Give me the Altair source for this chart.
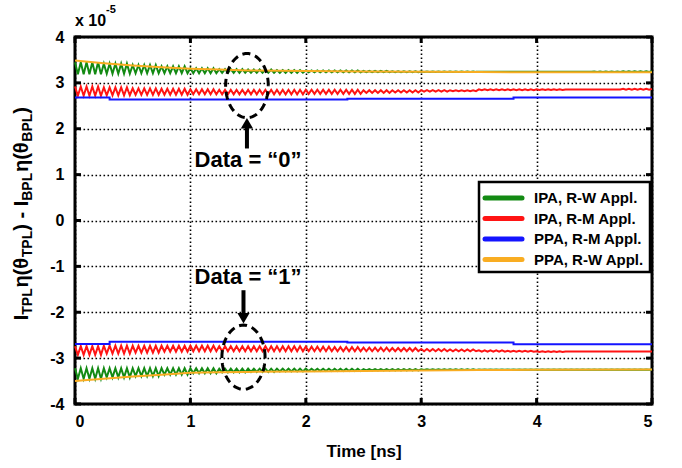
import altair as alt
import numpy as np
import pandas as pd

# ---------------- data (units of 1e-5) ----------------
SEG = 0.25      # envelope segment length [ns]
STEP = 0.025    # zigzag vertex step [ns]

# oscillating traces: upper / lower envelope per 0.25 ns segment
green0_hi = [3.45, 3.42, 3.39, 3.36, 3.32, 3.30, 3.29, 3.28, 3.27, 3.27,
             3.26, 3.255, 3.25, 3.25, 3.245, 3.245, 3.245, 3.245, 3.25, 3.255]
green0_lo = [3.19, 3.20, 3.21, 3.21, 3.21, 3.22, 3.22, 3.22, 3.23, 3.23,
             3.235, 3.235, 3.24, 3.24, 3.245, 3.245, 3.245, 3.245, 3.24, 3.24]
red0_hi = [2.92, 2.90, 2.88, 2.87, 2.86, 2.85, 2.85, 2.85, 2.85, 2.85,
           2.84, 2.84, 2.84, 2.84, 2.86, 2.86, 2.86, 2.855, 2.855, 2.87]
red0_lo = [2.72, 2.73, 2.74, 2.74, 2.75, 2.75, 2.75, 2.75, 2.76, 2.76,
           2.78, 2.79, 2.81, 2.82, 2.84, 2.84, 2.845, 2.855, 2.855, 2.85]
green1_hi = [-3.22, -3.22, -3.22, -3.22, -3.22, -3.23, -3.23, -3.23, -3.23, -3.23,
             -3.24, -3.24, -3.245, -3.245, -3.25, -3.25, -3.25, -3.25, -3.25, -3.25]
green1_lo = [-3.45, -3.42, -3.39, -3.36, -3.33, -3.31, -3.30, -3.29, -3.28, -3.28,
             -3.27, -3.27, -3.26, -3.26, -3.255, -3.255, -3.255, -3.255, -3.255, -3.255]
red1_hi = [-2.74, -2.73, -2.73, -2.73, -2.73, -2.74, -2.74, -2.74, -2.75, -2.76,
           -2.77, -2.78, -2.80, -2.81, -2.83, -2.84, -2.85, -2.855, -2.855, -2.855]
red1_lo = [-2.93, -2.90, -2.88, -2.86, -2.85, -2.85, -2.85, -2.85, -2.85, -2.85,
           -2.85, -2.85, -2.85, -2.85, -2.86, -2.86, -2.865, -2.855, -2.855, -2.855]

# smooth traces
orange_t = [0, 0.25, 0.5, 0.75, 1, 1.25, 1.5, 2, 2.5, 3, 3.5, 4, 5]
orange0_v = [3.49, 3.43, 3.38, 3.34, 3.31, 3.29, 3.27, 3.26, 3.25, 3.24, 3.235, 3.23, 3.23]
orange1_v = [-3.50, -3.45, -3.40, -3.36, -3.32, -3.31, -3.30, -3.29, -3.28, -3.27, -3.26, -3.255, -3.25]
blue_t = [0, 0.3, 0.3, 2.36, 2.36, 3.8, 3.8, 5]
blue0_v = [2.68, 2.68, 2.64, 2.64, 2.655, 2.655, 2.68, 2.68]
blue1_v = [-2.69, -2.69, -2.645, -2.645, -2.66, -2.66, -2.70, -2.70]

series_names = ["IPA, R-W Appl.", "IPA, R-M Appl.", "PPA, R-M Appl.", "PPA, R-W Appl."]
series_colors = ["#138a13", "#ff1414", "#1414ff", "#f9ad22"]

x_ticks = [0, 1, 2, 3, 4, 5]
y_ticks = [-4, -3, -2, -1, 0, 1, 2, 3, 4]

# annotations
ellipses = [(1.49, 2.94, 0.185, 0.70), (1.46, -2.98, 0.187, 0.70)]   # cx, cy, rx, ry
arrows = [(1.49, 1.57, 2.04, "triangle-up", 2.12), (1.46, -1.52, -2.06, "triangle-down", -2.13)]
notes = [(1.50, 1.31, "Data = \u201c0\u201d"), (1.50, -1.23, "Data = \u201c1\u201d")]

W, H = 577, 367
FONT = "Liberation Sans"


def zigzag(hi, lo, grp):
    t = np.round(np.arange(0, 5 + 1e-9, STEP), 4)
    seg = np.minimum(np.floor(t / SEG + 1e-9).astype(int), len(hi) - 1)
    v = [hi[s] if k % 2 == 0 else lo[s] for k, s in enumerate(seg)]
    return pd.DataFrame({"t": t, "v": v, "grp": grp, "i": np.arange(len(t))})


def smooth(t, v, grp):
    return pd.DataFrame({"t": t, "v": v, "grp": grp, "i": np.arange(len(t))})


green_df = pd.concat([zigzag(green0_hi, green0_lo, "d0"), zigzag(green1_hi, green1_lo, "d1")])
red_df = pd.concat([zigzag(red0_hi, red0_lo, "d0"), zigzag(red1_hi, red1_lo, "d1")])
blue_df = pd.concat([smooth(blue_t, blue0_v, "d0"), smooth(blue_t, blue1_v, "d1")])
orange_df = pd.concat([smooth(orange_t, orange0_v, "d0"), smooth(orange_t, orange1_v, "d1")])

xs = alt.Scale(domain=[0, 5], nice=False, zero=False)
ys = alt.Scale(domain=[-4, 4], nice=False, zero=False)
xaxis = alt.Axis(values=x_ticks, grid=True, gridColor="black", gridDash=[1.6, 2.4], gridWidth=1.6,
                 gridOpacity=1, ticks=False, tickSize=0, domain=False,
                 labelFont=FONT, labelFontWeight="bold", labelFontSize=16, labelColor="black",
                 labelPadding=9, title="Time [ns]", titleFont=FONT, titleFontWeight="bold",
                 titleFontSize=17, titleColor="black", titlePadding=14)
yaxis = alt.Axis(values=y_ticks, grid=True, gridColor="black", gridDash=[1.6, 2.4], gridWidth=1.6,
                 gridOpacity=1, ticks=False, tickSize=0, domain=False,
                 labelFont=FONT, labelFontWeight="bold", labelFontSize=16, labelColor="black",
                 labelPadding=11, labelExpr="'' + datum.value", title="")
X = alt.X("t:Q", scale=xs, axis=xaxis)
Y = alt.Y("v:Q", scale=ys, axis=yaxis)


def line_layer(df, color, width=2.0):
    return alt.Chart(df).mark_line(color=color, strokeWidth=width).encode(
        x=X, y=Y, detail="grp:N", order="i:Q")


layers = [
    line_layer(green_df, series_colors[0]),
    line_layer(red_df, series_colors[1]),
    line_layer(blue_df, series_colors[2]),
    line_layer(orange_df, series_colors[3]),
]

# ellipses
ell_rows = []
th = np.linspace(0, 2 * np.pi, 81)
for k, (cx, cy, rx, ry) in enumerate(ellipses):
    for j, a in enumerate(th):
        ell_rows.append({"t": cx + rx * np.cos(a), "v": cy + ry * np.sin(a), "grp": f"e{k}", "i": j})
ell_df = pd.DataFrame(ell_rows)
layers.append(alt.Chart(ell_df).mark_line(color="black", strokeWidth=3, strokeDash=[8, 5]).encode(
    x=X, y=Y, detail="grp:N", order="i:Q"))

# arrows
arr_df = pd.DataFrame([{"t": a[0], "v": a[1], "t2": a[0], "v2": a[2]} for a in arrows])
layers.append(alt.Chart(arr_df).mark_rule(color="black", strokeWidth=4).encode(
    x=X, y=Y, x2="t2:Q", y2="v2:Q"))
for a in arrows:
    layers.append(alt.Chart(pd.DataFrame({"t": [a[0]], "v": [a[4]]})).mark_point(
        shape=a[3], filled=True, color="black", size=150, opacity=1).encode(x=X, y=Y))

# notes
note_df = pd.DataFrame([{"t": n[0], "v": n[1], "txt": n[2]} for n in notes])
layers.append(alt.Chart(note_df).mark_text(font=FONT, fontWeight="bold", fontSize=22, color="black",
                                           align="center", baseline="middle").encode(
    x=X, y=Y, text="txt:N"))

# inward tick marks on all four sides
xt_df = pd.DataFrame({"t": x_ticks})
yt_df = pd.DataFrame({"v": y_ticks})
tk = dict(color="black", strokeWidth=3)
layers.append(alt.Chart(xt_df).mark_rule(**tk).encode(x=X, y=alt.value(H), y2=alt.value(H - 6)))
layers.append(alt.Chart(xt_df).mark_rule(**tk).encode(x=X, y=alt.value(0), y2=alt.value(6)))
layers.append(alt.Chart(yt_df).mark_rule(**tk).encode(y=Y, x=alt.value(0), x2=alt.value(6)))
layers.append(alt.Chart(yt_df).mark_rule(**tk).encode(y=Y, x=alt.value(W), x2=alt.value(W - 6)))

# legend (drawn manually)
LX0, LX1, LY0, LY1 = 404, 575, 145, 235
layers.append(alt.Chart(pd.DataFrame({"a": [0]})).mark_rect(
    fill="white", stroke="black", strokeWidth=2.5).encode(
    x=alt.value(LX0), x2=alt.value(LX1), y=alt.value(LY0), y2=alt.value(LY1)))
leg_df = pd.DataFrame({"name": series_names, "color": series_colors,
                       "py": [161 + k * 20.5 for k in range(len(series_names))]})
layers.append(alt.Chart(leg_df).mark_rule(strokeWidth=5, strokeCap="round").encode(
    x=alt.value(410), x2=alt.value(447), y=alt.Y("py:Q", scale=None),
    color=alt.Color("color:N", scale=None)))
layers.append(alt.Chart(leg_df).mark_text(font=FONT, fontWeight="bold", fontSize=15, color="black",
                                          align="left", baseline="middle").encode(
    x=alt.value(459), y=alt.Y("py:Q", scale=None), text="name:N"))

# exponent label
layers.append(alt.Chart(pd.DataFrame({"a": [0]})).mark_text(
    font=FONT, fontWeight="bold", fontSize=16, color="black", align="left", baseline="middle",
    text="x 10").encode(x=alt.value(0), y=alt.value(-16)))
layers.append(alt.Chart(pd.DataFrame({"a": [0]})).mark_text(
    font=FONT, fontWeight="bold", fontSize=11, color="black", align="left", baseline="middle",
    text="-5").encode(x=alt.value(31), y=alt.value(-27)))

# rotated y-axis title with subscripts, laid out contiguously from the top (screen y)
BIG, SUB = 20, 14
ytitle = [(")", False, 0.333), ("BPL", True, 2.0), ("\u03b7(\u03b8", False, 1.555), ("BPL", True, 2.0),
          (") - I", False, 1.5), ("TPL", True, 1.889), ("\u03b7(\u03b8", False, 1.555),
          ("TPL", True, 1.889), ("I", False, 0.278)]
pos = 107.0
for txt, sub, em in ytitle:
    w = em * (SUB if sub else BIG)
    cy = pos + w / 2
    pos += w
    layers.append(alt.Chart(pd.DataFrame({"a": [0]})).mark_text(
        font=FONT, fontWeight="bold", fontSize=SUB if sub else BIG, color="black",
        align="center", baseline="middle", angle=270, text=txt).encode(
        x=alt.value(-47 if sub else -53.5), y=alt.value(cy - 37)))

chart = alt.layer(*layers).properties(
    width=W, height=H,
    padding={"left": 75, "top": 37, "right": 30, "bottom": 64},
    autosize=alt.AutoSizeParams(type="none"),
    background="white",
).configure_view(stroke="black", strokeWidth=3)

chart.save("out.html", embed_options={"renderer": "svg", "actions": False})
